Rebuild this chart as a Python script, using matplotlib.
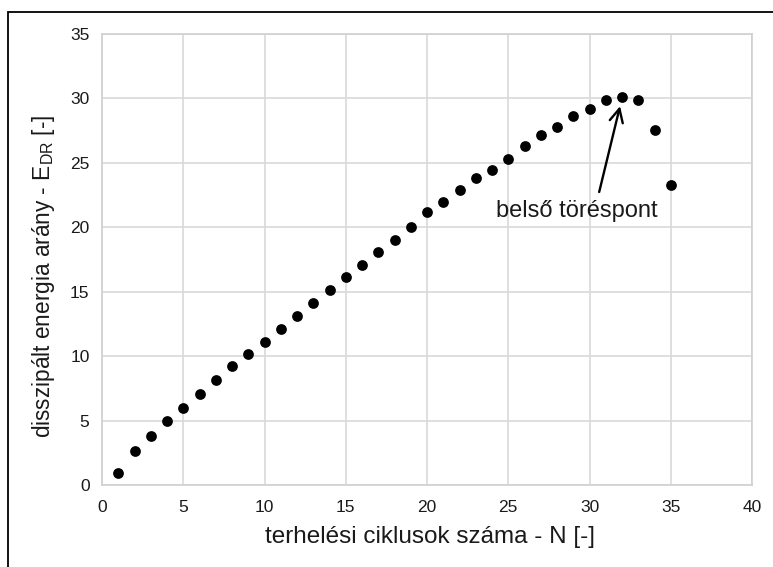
import matplotlib
matplotlib.use("Agg")
import matplotlib.pyplot as plt
from matplotlib.patches import Rectangle

plt.rcParams['font.family'] = ['Liberation Sans', 'DejaVu Sans']
plt.rcParams['mathtext.fontset'] = 'custom'
plt.rcParams['mathtext.rm'] = 'Liberation Sans'
plt.rcParams['mathtext.it'] = 'Liberation Sans'

# load cycles and dissipated energy ratio
cycles = list(range(1, 36))
energy_ratio = [0.95, 2.6, 3.8, 4.95, 6.0, 7.1, 8.15, 9.2, 10.15, 11.1,
                12.1, 13.1, 14.15, 15.15, 16.15, 17.1, 18.1, 19.05, 20.05, 21.15,
                22.0, 22.9, 23.8, 24.45, 25.3, 26.3, 27.2, 27.8, 28.6, 29.2,
                29.85, 30.1, 29.9, 27.55, 23.3]

x_ticks = [0, 5, 10, 15, 20, 25, 30, 35, 40]
y_ticks = [0, 5, 10, 15, 20, 25, 30, 35]

break_label = "belső töréspont"
break_cycle = 32

W, H = 773, 567
fig = plt.figure(figsize=(W / 100, H / 100), dpi=100)

# outer frame
fig.patches.append(Rectangle((8 / W, -0.1), 1.2, 1 - 12 / H + 0.1,
                             transform=fig.transFigure, fill=False,
                             edgecolor='black', linewidth=1.3))

ax = fig.add_axes([102 / W, (H - 485) / H, 650 / W, 451 / H])
ax.scatter(cycles, energy_ratio, s=60, color='black', zorder=3, linewidths=0)

ax.set_xlim(0, 40)
ax.set_ylim(0, 35)
ax.set_xticks(x_ticks)
ax.set_yticks(y_ticks)
ax.grid(True, color='#d9d9d9', linewidth=1.2)
ax.set_axisbelow(True)
for sp in ax.spines.values():
    sp.set_color('#d0d0d0')
    sp.set_linewidth(1.2)
ax.tick_params(length=0, labelsize=12.5, colors='#1a1a1a')
ax.tick_params(axis='x', pad=11)
ax.tick_params(axis='y', pad=9)

text_color = '#1a1a1a'
ax.set_xlabel('terhelési ciklusok száma - N [-]', fontsize=17.5, color=text_color,
              va='center', ha='center')
ax.xaxis.set_label_coords(0.505, -0.115)
ax.set_ylabel('disszipált energia arány - E$_\\mathregular{DR}$ [-]', fontsize=16.3,
              color=text_color, va='center', ha='center')
ax.yaxis.set_label_coords(-0.09, 0.462)

peak = energy_ratio[cycles.index(break_cycle)]
ax.annotate(break_label, xy=(break_cycle - 0.12, peak - 0.7), xytext=(29.23, 21.25),
            ha='center', va='center', fontsize=17, color=text_color,
            arrowprops=dict(arrowstyle='->', color='black', lw=1.7,
                            mutation_scale=24, shrinkA=4, shrinkB=0,
                            relpos=(0.625, 1.0)))

fig.savefig('out.png', dpi=100)
